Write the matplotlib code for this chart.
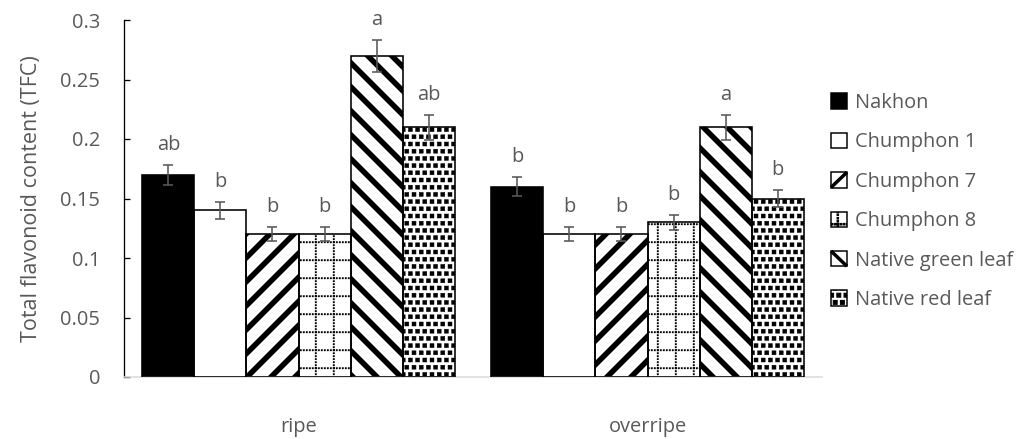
import matplotlib
matplotlib.use("Agg")
import matplotlib.pyplot as plt
import matplotlib.patches as mpatches
import matplotlib.hatch as mhatch
from matplotlib.legend_handler import HandlerPatch
from matplotlib.lines import Line2D
from matplotlib.path import Path
import numpy as np

categories = ["ripe", "overripe"]
series = ["Nakhon", "Chumphon 1", "Chumphon 7", "Chumphon 8",
          "Native green leaf", "Native red leaf"]
values = {
    "Nakhon": [0.17, 0.16],
    "Chumphon 1": [0.14, 0.12],
    "Chumphon 7": [0.12, 0.12],
    "Chumphon 8": [0.12, 0.13],
    "Native green leaf": [0.27, 0.21],
    "Native red leaf": [0.21, 0.15],
}
errors = {
    "Nakhon": [0.0085, 0.008],
    "Chumphon 1": [0.007, 0.006],
    "Chumphon 7": [0.006, 0.006],
    "Chumphon 8": [0.006, 0.0065],
    "Native green leaf": [0.0135, 0.0105],
    "Native red leaf": [0.0105, 0.0075],
}
letters = {
    "Nakhon": ["ab", "b"],
    "Chumphon 1": ["b", "b"],
    "Chumphon 7": ["b", "b"],
    "Chumphon 8": ["b", "b"],
    "Native green leaf": ["a", "a"],
    "Native red leaf": ["ab", "b"],
}
yticks = [0, 0.05, 0.1, 0.15, 0.2, 0.25, 0.3]
ytick_labels = ["0", "0.05", "0.1", "0.15", "0.2", "0.25", "0.3"]


# ---- custom hatch patterns (Excel-like fills) ----
class DottedGrid(mhatch.HatchPatternBase):
    """Dotted grid, triggered by 'o'."""
    lines = 4
    dots = 24
    dsize = 0.022

    def __init__(self, hatch, density):
        self.active = hatch.count("o") > 0
        n = self.lines * self.dots * 2 if self.active else 0
        self.num_shapes = n
        self.num_vertices = n * 5

    def set_vertices_and_codes(self, vertices, codes):
        sq = np.array([[0, 0], [1, 0], [1, 1], [0, 1], [0, 0]], float) * self.dsize
        sc = [Path.MOVETO, Path.LINETO, Path.LINETO, Path.LINETO, Path.CLOSEPOLY]
        vp, cp = [], []
        for i in range(self.lines):
            lp = (i + 0.5) / self.lines
            for j in range(self.dots):
                dp = j / self.dots
                vp.append(sq + [dp, lp])
                cp.append(sc)
                vp.append(sq + [lp, dp])
                cp.append(sc)
        np.concatenate(vp, out=vertices)
        np.concatenate(cp, out=codes)


class SquareDots(mhatch.Shapes):
    """Staggered filled squares, triggered by '.'."""
    filled = True
    size = 0.55

    def __init__(self, hatch, density):
        self.num_rows = 10 if hatch.count(".") > 0 else 0
        self.shape_vertices = np.array([[-0.5, -0.5], [0.5, -0.5], [0.5, 0.5],
                                        [-0.5, 0.5], [-0.5, -0.5]], float)
        self.shape_codes = np.array([Path.MOVETO, Path.LINETO, Path.LINETO,
                                     Path.LINETO, Path.CLOSEPOLY], dtype=Path.code_type)
        super().__init__(hatch, density)


mhatch._hatch_types = [t for t in mhatch._hatch_types
                       if t not in (mhatch.SmallCircles, mhatch.SmallFilledCircles)]
mhatch._hatch_types += [DottedGrid, SquareDots]

styles = {
    "Nakhon": dict(fc="black", hatch=None, hlw=1),
    "Chumphon 1": dict(fc="white", hatch=None, hlw=1),
    "Chumphon 7": dict(fc="white", hatch="/", hlw=5.5),
    "Chumphon 8": dict(fc="white", hatch="o", hlw=0.3),
    "Native green leaf": dict(fc="white", hatch="\\", hlw=5.5),
    "Native red leaf": dict(fc="white", hatch=".", hlw=0.5),
}

GRAY = "#595959"
plt.rcParams["font.family"] = ["Open Sans", "DejaVu Sans"]

DPI = 72
fig = plt.figure(figsize=(1033 / DPI, 439 / DPI), dpi=DPI)
ax = fig.add_axes([124 / 1033, 62 / 439, (822 - 124) / 1033, (419 - 62) / 439])

x = np.arange(len(categories))
width = 0.149
n = len(series)

for i, s in enumerate(series):
    st = styles[s]
    pos = x + (i - (n - 1) / 2) * width
    with plt.rc_context({"hatch.linewidth": st["hlw"], "hatch.color": "black"}):
        b1 = ax.bar(pos, values[s], width, color=st["fc"], edgecolor="black",
                    linewidth=0, hatch=st["hatch"], zorder=2)
    for p in b1:
        if hasattr(p, "set_hatch_linewidth"):
            p.set_hatch_linewidth(st["hlw"])
    ax.bar(pos, values[s], width, fill=False, edgecolor="black", linewidth=1.6, zorder=3)
    ax.errorbar(pos, values[s], yerr=errors[s], fmt="none", ecolor=GRAY,
                elinewidth=1.6, capsize=5, capthick=1.6, zorder=4)
    for xi, v, e, t in zip(pos, values[s], errors[s], letters[s]):
        ax.annotate(t, (xi, v + e), xytext=(0, 10), textcoords="offset points",
                    ha="center", va="bottom", fontsize=20, color=GRAY)

ax.set_xlim(-0.5, 1.5)
ax.set_ylim(0, 0.3)
ax.set_yticks(yticks)
ax.set_yticklabels(ytick_labels)
ax.set_xticks(x)
ax.set_xticklabels(categories)
ax.tick_params(axis="y", direction="in", length=6, width=1.3, color="black",
               labelsize=20, labelcolor=GRAY, pad=24)
ax.tick_params(axis="x", length=0, labelsize=20, labelcolor=GRAY, pad=40)
for side in ["top", "right"]:
    ax.spines[side].set_visible(False)
ax.spines["left"].set_color("black")
ax.spines["left"].set_linewidth(1.3)
ax.spines["bottom"].set_color("#d9d9d9")
ax.spines["bottom"].set_linewidth(1.5)
ax.set_ylabel("Total flavonoid content (TFC)", fontsize=21.5, color=GRAY, labelpad=18)


class StripeHandler(HandlerPatch):
    """Square legend key with a single thick diagonal stripe."""
    def __init__(self, direction):
        super().__init__()
        self.direction = direction

    def create_artists(self, legend, orig_handle, xdescent, ydescent, width, height,
                       fontsize, trans):
        rect = mpatches.Rectangle((-xdescent, -ydescent), width, height,
                                  facecolor="white", edgecolor="black", linewidth=1.5,
                                  transform=trans)
        x0, x1 = -xdescent, -xdescent + width
        y0, y1 = -ydescent, -ydescent + height
        ys = [y0, y1] if self.direction == "/" else [y1, y0]
        line = Line2D([x0, x1], ys, color="black", linewidth=3.5,
                      solid_capstyle="butt", transform=trans)
        return [rect, line]


handles = []
handler_map = {}
for s in series:
    st = styles[s]
    hl = st["hlw"] if st["hlw"] < 1 else 3.0
    with plt.rc_context({"hatch.linewidth": hl}):
        h = mpatches.Patch(facecolor=st["fc"], edgecolor="black", linewidth=1.5,
                           hatch=st["hatch"] if st["hatch"] not in ("/", "\\") else None,
                           label=s)
    if hasattr(h, "set_hatch_linewidth"):
        h.set_hatch_linewidth(hl)
    if st["hatch"] in ("/", "\\"):
        handler_map[h] = StripeHandler(st["hatch"])
    handles.append(h)
leg = fig.legend(handles=handles, loc="upper left", bbox_to_anchor=(831 / 1033, 1 - 93 / 439),
                 frameon=False, fontsize=20, handlelength=0.8, handleheight=0.8,
                 handletextpad=0.4, labelspacing=0.97, borderpad=0, borderaxespad=0,
                 handler_map=handler_map)
for t in leg.get_texts():
    t.set_color(GRAY)

fig.savefig("out.png", dpi=DPI)
